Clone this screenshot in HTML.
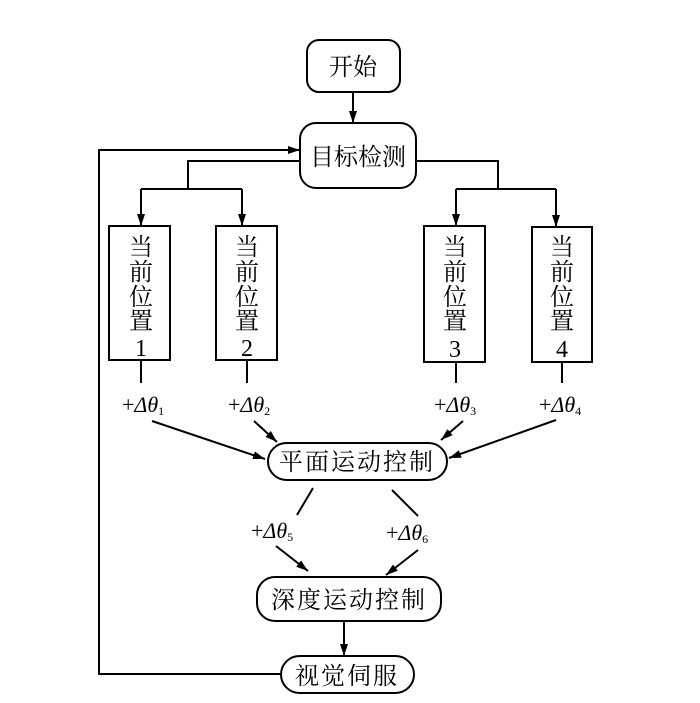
<!DOCTYPE html>
<html><head><meta charset="utf-8"><style>body{margin:0;background:#fff}</style></head><body>
<svg width="700" height="698" xmlns="http://www.w3.org/2000/svg" font-family="'Liberation Serif','Noto Serif CJK SC',serif">
<defs><marker id="a" markerWidth="12" markerHeight="8" refX="12" refY="4" orient="auto" markerUnits="userSpaceOnUse"><path d="M0,0L12,4L0,8z" fill="#000"/></marker></defs>
<g fill="none" stroke="#000" stroke-width="2">
<rect x="307" y="40" width="93" height="52" rx="12"/>
<rect x="300" y="123" width="116" height="65" rx="16"/>
<rect x="109" y="226" width="61" height="134"/>
<rect x="216" y="226" width="61" height="134"/>
<rect x="424" y="226" width="61" height="136"/>
<rect x="532" y="227" width="60" height="135"/>
<rect x="268" y="443" width="179" height="37" rx="18.5"/>
<rect x="257" y="577" width="184" height="44" rx="18"/>
<rect x="281" y="656" width="133" height="37" rx="18.5"/>
<path d="M353 92V123" marker-end="url(#a)"/>
<path d="M281 674H99V150H300" marker-end="url(#a)"/>
<path d="M300 161H188V189"/><path d="M141 189H242"/>
<path d="M141 189V226" marker-end="url(#a)"/><path d="M242 189V226" marker-end="url(#a)"/>
<path d="M416 161H498V189"/><path d="M456 189H556"/>
<path d="M456 189V226" marker-end="url(#a)"/><path d="M556 189V227" marker-end="url(#a)"/>
<path d="M141 360V383M247 360V383M456 362V383M562 362V383"/>
<path d="M152 421L265 459" marker-end="url(#a)"/>
<path d="M254 421L277 442" marker-end="url(#a)"/>
<path d="M463 421L441 440" marker-end="url(#a)"/>
<path d="M556 420L449 458" marker-end="url(#a)"/>
<path d="M313 488L297 515M392 490L418 516"/>
<path d="M276 546L308 571" marker-end="url(#a)"/>
<path d="M418 550L386 575" marker-end="url(#a)"/>
<path d="M344 621V656" marker-end="url(#a)"/>
</g>
<g font-size="24" text-anchor="middle" fill="#000">
<text x="353" y="75">开始</text>
<text x="358" y="165">目标检测</text>
<text x="357" y="470" letter-spacing="2">平面运动控制</text>
<text x="349" y="608" letter-spacing="2">深度运动控制</text>
<text x="347" y="684" letter-spacing="2">视觉伺服</text>
</g>
<g font-size="24" text-anchor="middle" fill="#000">
<g transform="translate(141,0)"><text y="255">当</text><text y="280">前</text><text y="305">位</text><text y="329">置</text><text y="356">1</text></g>
<g transform="translate(247,0)"><text y="255">当</text><text y="280">前</text><text y="305">位</text><text y="329">置</text><text y="356">2</text></g>
<g transform="translate(455,0)"><text y="255">当</text><text y="280">前</text><text y="305">位</text><text y="329">置</text><text y="357">3</text></g>
<g transform="translate(562,0)"><text y="255">当</text><text y="280">前</text><text y="305">位</text><text y="329">置</text><text y="357">4</text></g>
</g>
<g font-size="22" fill="#000" font-style="italic">
<text x="122" y="412"><tspan font-style="normal">+</tspan>Δθ<tspan font-size="12" font-style="normal" dy="3">1</tspan></text>
<text x="228" y="412"><tspan font-style="normal">+</tspan>Δθ<tspan font-size="12" font-style="normal" dy="3">2</tspan></text>
<text x="434" y="412"><tspan font-style="normal">+</tspan>Δθ<tspan font-size="12" font-style="normal" dy="3">3</tspan></text>
<text x="539" y="412"><tspan font-style="normal">+</tspan>Δθ<tspan font-size="12" font-style="normal" dy="3">4</tspan></text>
<text x="251" y="538"><tspan font-style="normal">+</tspan>Δθ<tspan font-size="12" font-style="normal" dy="3">5</tspan></text>
<text x="386" y="540"><tspan font-style="normal">+</tspan>Δθ<tspan font-size="12" font-style="normal" dy="3">6</tspan></text>
</g>
</svg>
</body></html>
